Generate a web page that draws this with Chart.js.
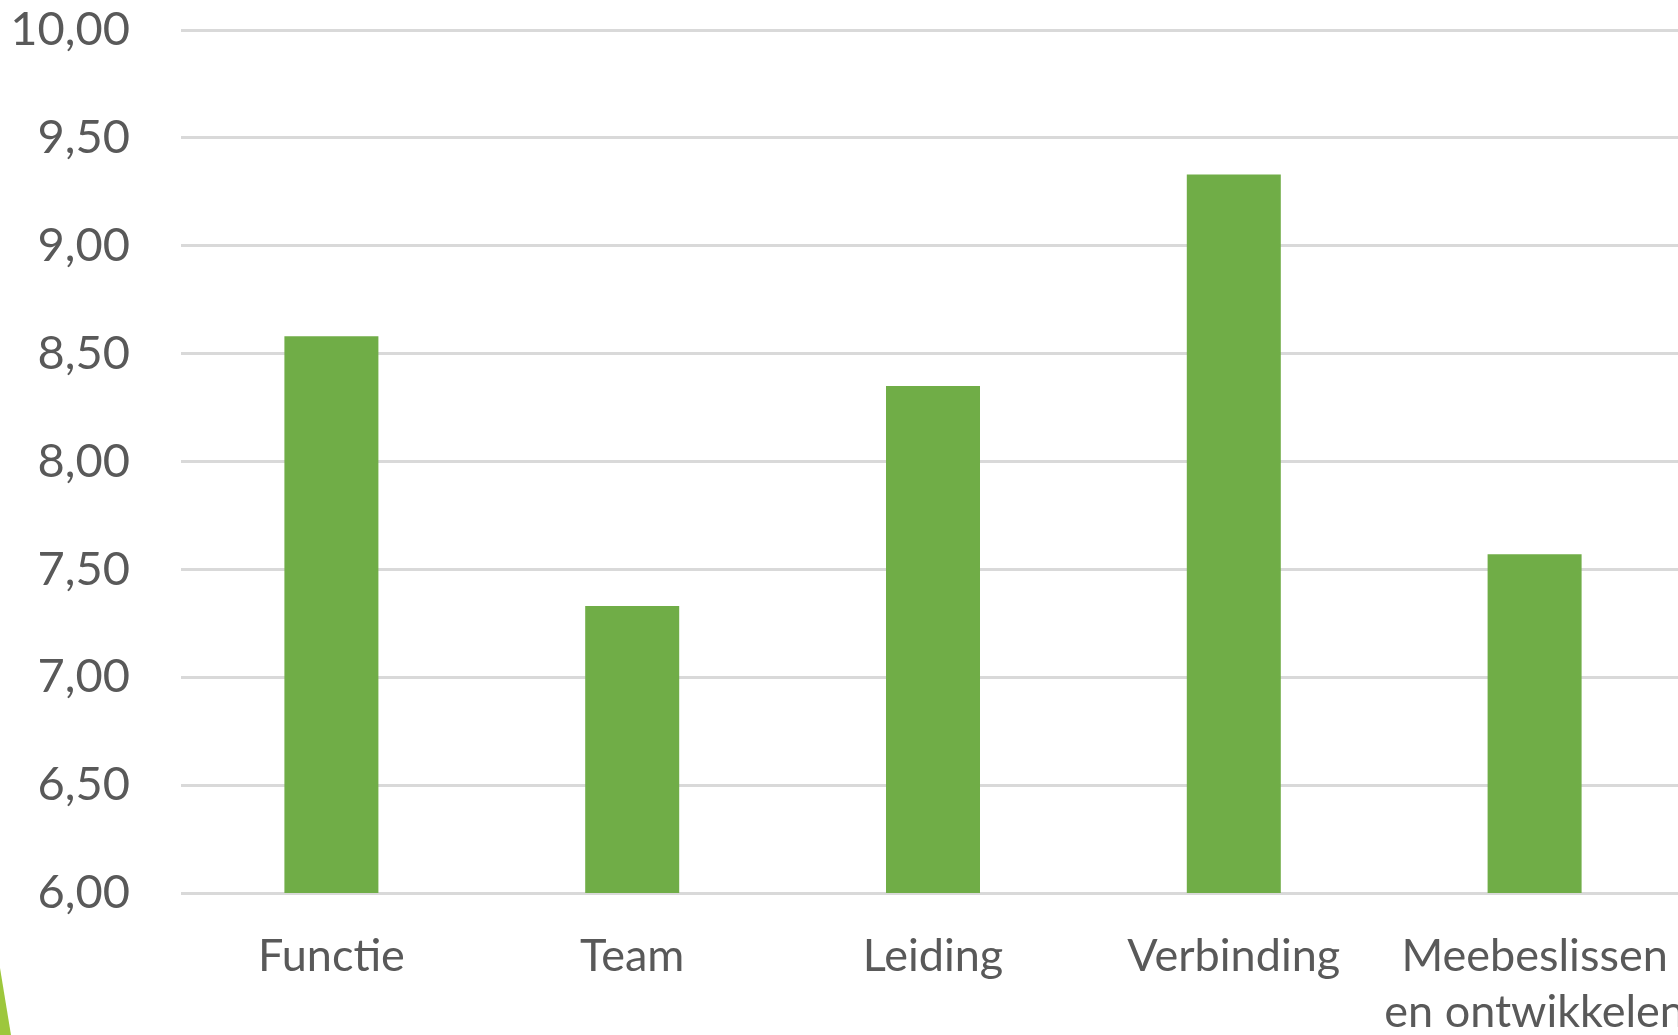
<!DOCTYPE html>
<html>
<head>
<meta charset="utf-8">
<script src="https://cdn.jsdelivr.net/npm/chart.js"></script>
<style>
  html, body { margin: 0; padding: 0; background: #fff; overflow: hidden; }
  #wrap { position: relative; width: 1700px; height: 1050px; }
  #deco {
    position: absolute; left: 0; top: 968px; width: 11px; height: 67px;
    background: #9DC73C;
    clip-path: polygon(0 0, 100% 100%, 0 100%);
  }
</style>
</head>
<body>
<div id="wrap">
  <canvas id="barChart" width="1700" height="1050"></canvas>
  <div id="deco"></div>
</div>
<script>
  // categories + scores
  const categories = ['Functie', 'Team', 'Leiding', 'Verbinding', ['Meebeslissen', 'en ontwikkelen']];
  const scores = [8.58, 7.33, 8.35, 9.33, 7.57];
  const tickLabels = ['6,00', '6,50', '7,00', '7,50', '8,00', '8,50', '9,00', '9,50', '10,00'];

  const textColor = '#595959';

  const ctx = document.getElementById('barChart').getContext('2d');
  new Chart(ctx, {
    type: 'bar',
    data: {
      labels: categories,
      datasets: [{
        label: 'Score',
        data: scores,
        backgroundColor: '#70AD47',
        barPercentage: 0.3125,
        categoryPercentage: 1
      }]
    },
    options: {
      responsive: false,
      animation: false,
      layout: { padding: { top: 30, right: 15, left: 0, bottom: 0 } },
      scales: {
        y: {
          min: 6,
          max: 10,
          ticks: {
            stepSize: 0.5,
            color: textColor,
            font: { family: 'Lato', size: 47 },
            padding: 51,
            callback: (v, i) => tickLabels[i]
          },
          grid: { color: '#D9D9D9', lineWidth: 3, drawTicks: false },
          border: { display: false },
          afterFit: scale => {
            scale.width = 181;
            scale.paddingTop = 0;
            scale.paddingBottom = 0;
          }
        },
        x: {
          ticks: {
            color: textColor,
            font: { family: 'Lato', size: 45, lineHeight: 1.25 },
            padding: 27,
            maxRotation: 0,
            autoSkip: false
          },
          grid: { display: false },
          border: { display: false },
          afterFit: scale => {
            scale.height = 157;
            scale.paddingLeft = 0;
            scale.paddingRight = 0;
          }
        }
      },
      plugins: {
        legend: { display: false },
        tooltip: { enabled: false }
      }
    }
  });
</script>
</body>
</html>
